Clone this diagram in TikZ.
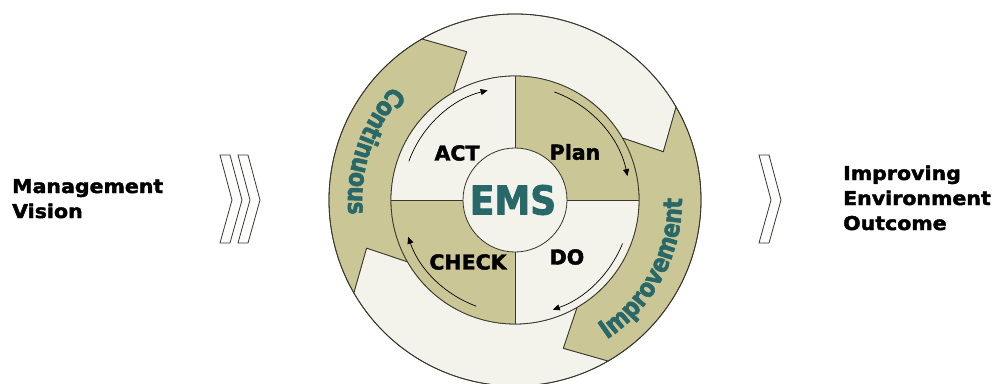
\documentclass[tikz,border=0pt]{standalone}
\usepackage{fontspec}
\usetikzlibrary{arrows.meta,decorations.text}
\newfontfamily\heavyfont[FakeStretch=1.08,FakeBold=2.2]{DejaVu Sans Bold}
\newfontfamily\quadfont[FakeBold=2]{DejaVu Sans Bold}
\newfontfamily\emsfont[FakeStretch=0.9,FakeBold=2]{DejaVu Sans Bold}
\newfontfamily\bandfont[FakeStretch=0.85,FakeBold=2]{DejaVu Sans Bold}
\definecolor{beige}{RGB}{202,198,150}
\definecolor{offwhite}{RGB}{243,243,236}
\definecolor{emsteal}{RGB}{40,104,104}
\definecolor{edge}{RGB}{55,55,45}
\tikzset{
  ringline/.style={draw=edge,line width=0.8pt},
  arrowline/.style={draw=black,line width=0.7pt,-{Triangle[length=7pt,width=6pt]}},
  quadlbl/.style={font=\quadfont\fontsize{20.5}{24}\selectfont,text=black,inner sep=0pt},
  sidelbl/.style={font=\heavyfont\fontsize{19}{23}\selectfont,text=black,inner sep=0pt,anchor=base west},
  chev/.pic={\draw[edge,line width=0.8pt,fill=white,line join=miter] (0,45)--(10,45)--(22,0)--(10,-43)--(0,-43)--(12,0)--cycle;}
}
\begin{document}
\begin{tikzpicture}[x=1pt,y=1pt,line join=round]
\useasboundingbox (-515,-183) rectangle (483,200);
\fill[white] (-515,-183) rectangle (483,200);
% outer ring segments
\foreach \a/\col in {198/beige,108/offwhite,18/beige,288/offwhite}{
  \filldraw[ringline,fill=\col] ({\a+12}:186) arc[start angle={\a+12},end angle={\a-78},radius=186]
    -- ({\a-90}:156) -- ({\a-78}:124) arc[start angle={\a-78},end angle={\a+12},radius=124]
    -- (\a:156) -- cycle;
}
\draw[ringline] (0,0) circle[radius=186];
% inner quadrants
\fill[offwhite] (0,0) circle[radius=124];
\fill[beige] (0,0) -- (0:124) arc[start angle=0,end angle=90,radius=124] -- cycle;
\fill[beige] (0,0) -- (180:124) arc[start angle=180,end angle=270,radius=124] -- cycle;
\draw[ringline] (0,0) circle[radius=124];
\draw[ringline] (-124,0) -- (124,0);
\draw[ringline] (0,-124) -- (0,124);
\filldraw[ringline,fill=offwhite] (0,0) circle[radius=52];
% cycle arrows
\draw[arrowline] (160:113) arc[start angle=160,end angle=104,radius=113];
\draw[arrowline] (70:115) arc[start angle=70,end angle=12,radius=115];
\draw[arrowline] (-22:116) arc[start angle=-22,end angle=-71,radius=116];
\draw[arrowline] (250:113) arc[start angle=250,end angle=199,radius=113];
% labels
\node[quadlbl] (act) at (-58,47) {ACT};
\node[quadlbl] (plan) at (60,48) {Plan};
\node[quadlbl] (do) at (52,-57) {DO};
\node[quadlbl] (check) at (-47,-62) {CHECK};
\node[font=\emsfont\fontsize{40}{44}\selectfont,text=emsteal,inner sep=0pt] (ems) at (-2,0) {EMS};
% curved band texts
\path[decorate,decoration={text along path,text align=center,
  text={|\bandfont\fontsize{26}{30}\selectfont\color{emsteal}|Continuous}}]
  (105:167) arc[start angle=105,end angle=217,radius=167];
\path[decorate,decoration={text along path,text align=center,
  text={|\bandfont\fontsize{26}{30}\selectfont\color{emsteal}|Improvement}}]
  (-83:167) arc[start angle=-83,end angle=27,radius=167];
% chevrons
\pic (chA) at (-295,0) {chev};
\pic (chB) at (-277,0) {chev};
\pic (chC) at (244,0) {chev};
% side labels
\node[sidelbl] (mgmt) at (-503,7) {Management};
\node[sidelbl] (vision) at (-503,-18) {Vision};
\node[sidelbl] (impr) at (328,20) {Improving};
\node[sidelbl] (env) at (328,-5) {Environment};
\node[sidelbl] (outc) at (328,-30) {Outcome};
\end{tikzpicture}
\end{document}
